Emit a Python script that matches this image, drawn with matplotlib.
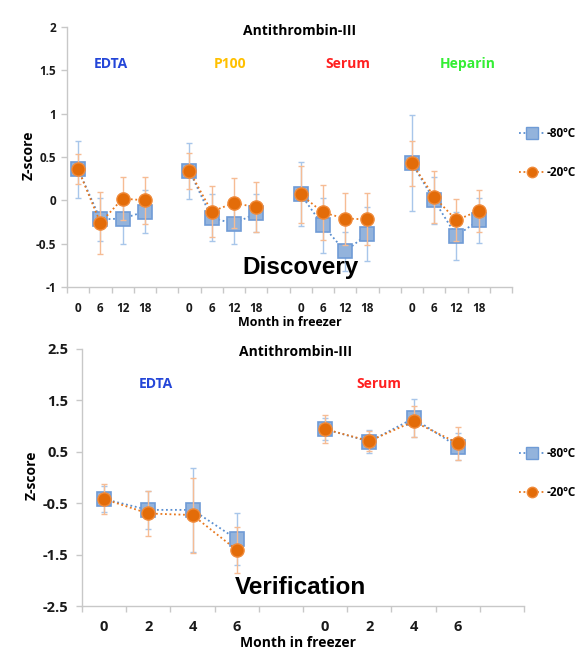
import matplotlib
matplotlib.use("Agg")
import matplotlib.pyplot as plt
import numpy as np
from matplotlib.lines import Line2D

# ---------------- data ----------------
disc_months = ["0", "6", "12", "18"]
disc_groups = ["EDTA", "P100", "Serum", "Heparin"]
disc_group_colors = ["#2446d8", "#ffc000", "#ff2020", "#33ee33"]
disc_m80 = [[0.36, -0.22, -0.21, -0.13],
            [0.34, -0.20, -0.27, -0.15],
            [0.07, -0.29, -0.59, -0.39],
            [0.43, 0.00, -0.41, -0.23]]
disc_m80_err = [[0.33, 0.25, 0.29, 0.25],
                [0.32, 0.27, 0.23, 0.22],
                [0.37, 0.32, 0.22, 0.31],
                [0.55, 0.27, 0.28, 0.26]]
disc_m20 = [[0.36, -0.26, 0.02, 0.00],
            [0.34, -0.13, -0.03, -0.08],
            [0.07, -0.14, -0.21, -0.22],
            [0.43, 0.04, -0.23, -0.12]]
disc_m20_err = [[0.17, 0.36, 0.25, 0.27],
                [0.21, 0.29, 0.29, 0.29],
                [0.33, 0.32, 0.30, 0.30],
                [0.26, 0.30, 0.24, 0.24]]

ver_months = ["0", "2", "4", "6"]
ver_groups = ["EDTA", "Serum"]
ver_group_colors = ["#2446d8", "#ff2020"]
ver_m80 = [[-0.42, -0.63, -0.63, -1.20],
           [0.94, 0.70, 1.15, 0.60]]
ver_m80_err = [[0.25, 0.37, 0.82, 0.51],
               [0.22, 0.23, 0.37, 0.26]]
ver_m20 = [[-0.42, -0.70, -0.73, -1.41],
           [0.94, 0.71, 1.09, 0.67]]
ver_m20_err = [[0.29, 0.44, 0.73, 0.44],
               [0.27, 0.19, 0.30, 0.32]]

series_labels = ["-80\u00baC", "-20\u00baC"]
title = "Antithrombin-III"

# ---------------- style ----------------
W, H = 576, 649
BLUE_LINE = "#5b8fd0"
BLUE_FACE = "#93b3dc"
BLUE_EDGE = "#6f9bd6"
BLUE_ERR = "#a8c6ea"
OR_LINE = "#e8781e"
OR_FACE = "#e36c09"
OR_EDGE = "#f08a3a"
OR_ERR = "#f6bc94"
SPINE = "#c8c8c8"
FONT = "Open Sans"
BIGFONT = "Liberation Sans"

plt.rcParams["font.family"] = [FONT, "DejaVu Sans"]
plt.rcParams["font.weight"] = "bold"

fig = plt.figure(figsize=(W / 100, H / 100), dpi=100)


def fx(x):
    return x / W


def fy(y):
    return 1 - y / H


def draw_panel(rect, months, groups, m80, m80e, m20, m20e, ylim, yticks,
               tick_fs, xpad, ypad):
    ax = fig.add_axes(rect)
    n = len(months)
    ncat = len(groups) * (n + 1)
    for g in range(len(groups)):
        xs = np.arange(n) + g * (n + 1)
        ax.errorbar(xs, m80[g], yerr=m80e[g], fmt="none", ecolor=BLUE_ERR,
                    elinewidth=1.0, capsize=2, capthick=1.0, zorder=2)
        ax.plot(xs, m80[g], linestyle=(0, (1, 1.5)), color=BLUE_LINE, lw=1.3,
                marker="s", markersize=10, markerfacecolor=BLUE_FACE,
                markeredgecolor=BLUE_EDGE, markeredgewidth=1.2, zorder=3)
        ax.errorbar(xs, m20[g], yerr=m20e[g], fmt="none", ecolor=OR_ERR,
                    elinewidth=1.0, capsize=2, capthick=1.0, zorder=4)
        ax.plot(xs, m20[g], linestyle=(0, (1, 1.5)), color=OR_LINE, lw=1.3,
                marker="o", markersize=9.5, markerfacecolor=OR_FACE,
                markeredgecolor=OR_EDGE, markeredgewidth=1.0, zorder=5)
    ax.set_xlim(-0.5, ncat - 0.5)
    ax.set_ylim(*ylim)
    ax.set_yticks(yticks)
    ax.set_yticklabels([("%g" % v) for v in yticks], fontsize=tick_fs,
                       fontweight="bold", color="#1a1a1a")
    ax.set_xticks(np.arange(-0.5, ncat, 1.0))
    ax.set_xticklabels([])
    labels = []
    for g in range(len(groups)):
        labels += months + [""]
    ax.set_xticks(np.arange(ncat), minor=True)
    ax.set_xticklabels(labels, minor=True, fontsize=tick_fs,
                       fontweight="bold", color="#1a1a1a")
    ax.tick_params(axis="x", which="major", length=4, color=SPINE, width=1,
                   direction="out")
    ax.tick_params(axis="x", which="minor", length=0, pad=xpad)
    ax.tick_params(axis="y", length=4, color=SPINE, width=1, direction="out",
                   pad=ypad)
    for s in ["top", "right"]:
        ax.spines[s].set_visible(False)
    for s in ["left", "bottom"]:
        ax.spines[s].set_color(SPINE)
        ax.spines[s].set_linewidth(1)
    ax.patch.set_alpha(0)
    return ax


# ---------------- top panel ----------------
ax1 = draw_panel([fx(67), fy(287), fx(512) - fx(67), fy(27) - fy(287)],
                 disc_months, disc_groups, disc_m80, disc_m80_err,
                 disc_m20, disc_m20_err, (-1, 2),
                 [-1, -0.5, 0, 0.5, 1, 1.5, 2], 8.5, 11, 4)

# ---------------- bottom panel ----------------
ax2 = draw_panel([fx(82), fy(606), fx(524) - fx(82), fy(349) - fy(606)],
                 ver_months, ver_groups, ver_m80, ver_m80_err,
                 ver_m20, ver_m20_err, (-2.5, 2.5),
                 [-2.5, -1.5, -0.5, 0.5, 1.5, 2.5], 10.5, 10, 6)

# ---------------- texts ----------------
fig.text(fx(300), fy(31), title, ha="center", va="center", fontsize=10,
         fontweight="bold")
fig.text(fx(296), fy(352), title, ha="center", va="center", fontsize=10,
         fontweight="bold")

for name, col, x in zip(disc_groups, disc_group_colors, [111, 230, 348, 468]):
    fig.text(fx(x), fy(64), name, ha="center", va="center", fontsize=10,
             fontweight="bold", color=col)
for name, col, x in zip(ver_groups, ver_group_colors, [156, 379]):
    fig.text(fx(x), fy(384), name, ha="center", va="center", fontsize=10,
             fontweight="bold", color=col)

fig.text(fx(300), fy(268), "Discovery", ha="center", va="center",
         fontsize=17.5, fontweight="bold", family=BIGFONT)
fig.text(fx(300), fy(588), "Verification", ha="center", va="center",
         fontsize=17.5, fontweight="bold", family=BIGFONT)

fig.text(fx(290), fy(323), "Month in freezer", ha="center", va="center",
         fontsize=9, fontweight="bold")
fig.text(fx(298), fy(643), "Month in freezer", ha="center", va="center",
         fontsize=10, fontweight="bold")

fig.text(fx(29), fy(155), "Z-score", ha="center", va="center", rotation=90,
         fontsize=10, fontweight="bold")
fig.text(fx(32), fy(475), "Z-score", ha="center", va="center", rotation=90,
         fontsize=10, fontweight="bold")

# ---------------- legends ----------------
handles = [
    Line2D([], [], linestyle=(0, (1, 1.5)), color=BLUE_LINE, lw=1.3,
           marker="s", markersize=8, markerfacecolor=BLUE_FACE,
           markeredgecolor=BLUE_EDGE),
    Line2D([], [], linestyle=(0, (1, 1.5)), color=OR_LINE, lw=1.3,
           marker="o", markersize=7.5, markerfacecolor=OR_FACE,
           markeredgecolor=OR_EDGE),
]
for ycen in [153, 473]:
    fig.legend(handles, series_labels, loc="center left",
               bbox_to_anchor=(fx(519), fy(ycen)), frameon=False,
               handlelength=2.2, handletextpad=0.15, labelspacing=2.2,
               borderaxespad=0, borderpad=0,
               prop={"weight": "bold", "size": 8.5})

fig.savefig("out.png", dpi=100)
